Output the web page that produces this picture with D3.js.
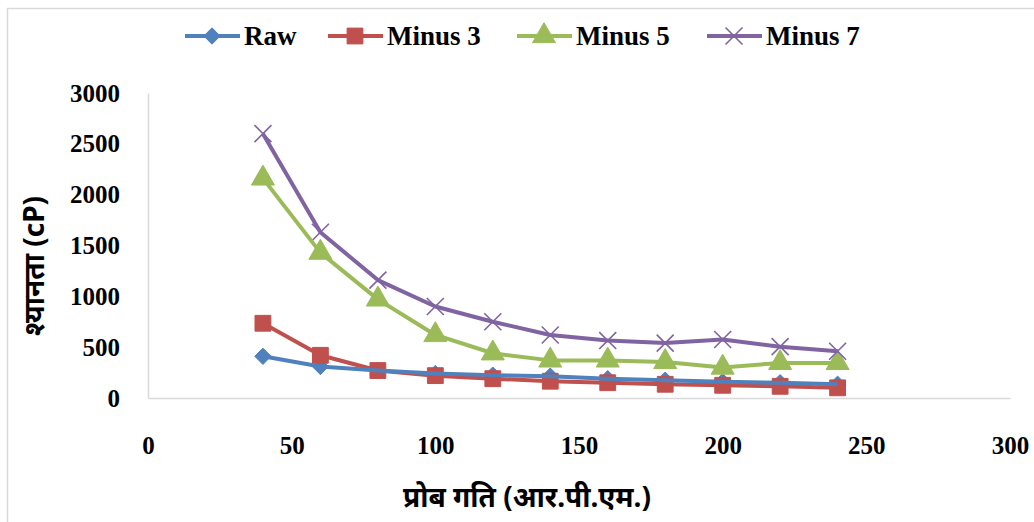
<!DOCTYPE html>
<html>
<head>
<meta charset="utf-8">
<script src="https://cdn.jsdelivr.net/npm/d3@7"></script>
<style>
  html, body { margin: 0; padding: 0; background: #fff; }
  svg { display: block; }
</style>
</head>
<body>
<svg id="chart" width="1034" height="522"></svg>
<script>
// Probe speed (rpm) and viscosity (cP) for each sample
const speeds = [40, 60, 80, 100, 120, 140, 160, 180, 200, 220, 240];
const seriesNames = ["Raw", "Minus 3", "Minus 5", "Minus 7"];
const raw    = [410, 310, 270, 240, 225, 215, 190, 175, 160, 150, 135];
const minus3 = [735, 420, 270, 220, 190, 165, 150, 135, 125, 115, 100];
const minus5 = [2160, 1430, 970, 620, 440, 370, 370, 355, 300, 345, 345];
const minus7 = [2600, 1630, 1160, 900, 750, 620, 565, 540, 575, 505, 460];
const xTicks = [0, 50, 100, 150, 200, 250, 300];
const yTicks = [0, 500, 1000, 1500, 2000, 2500, 3000];
const xTitle = "प्रोब गति (आर.पी.एम.)";
const yTitle = "श्यानता (cP)";

const colors = ["#4F81BD", "#C0504D", "#9BBB59", "#8064A2"];
const symbols = [d3.symbolDiamond2, d3.symbolSquare, d3.symbolTriangle, d3.symbolX];
const values = [raw, minus3, minus5, minus7];

const svg = d3.select("#chart");
const W = 1034, H = 522;
const plot = { left: 148, right: 1010, top: 93, bottom: 398 };
const tickFont = "'Liberation Serif', serif";

const x = d3.scaleLinear().domain([0, 300]).range([plot.left, plot.right]);
const y = d3.scaleLinear().domain([0, 3000]).range([plot.bottom, plot.top]);

// chart frame
svg.append("rect")
  .attr("x", 7.5).attr("y", 8.5)
  .attr("width", W + 20).attr("height", H + 20)
  .attr("fill", "#fff").attr("stroke", "#d9d9d9").attr("stroke-width", 1.5);

// axes
const xAxis = svg.append("g")
  .attr("transform", `translate(0,${plot.bottom})`)
  .call(d3.axisBottom(x).tickValues(xTicks).tickFormat(d3.format("d"))
    .tickSize(0).tickPadding(38));
const yAxis = svg.append("g")
  .attr("transform", `translate(${plot.left},0)`)
  .call(d3.axisLeft(y).tickValues(yTicks).tickFormat(d3.format("d"))
    .tickSize(0).tickPadding(28));
[xAxis, yAxis].forEach(g => {
  g.select(".domain").attr("stroke", "#d9d9d9").attr("stroke-width", 1.5);
  g.selectAll("text")
    .attr("font-family", tickFont)
    .attr("font-weight", "bold")
    .attr("font-size", 25)
    .attr("fill", "#000");
});

// axis titles
svg.append("text")
  .attr("x", 527).attr("y", 507)
  .attr("text-anchor", "middle")
  .attr("font-family", "'Noto Sans', sans-serif")
  .attr("font-weight", "bold").attr("font-size", 28)
  .attr("fill", "#000")
  .text(xTitle);
svg.append("text")
  .attr("transform", "translate(44,266) rotate(-90)")
  .attr("text-anchor", "middle")
  .attr("font-family", "'Noto Sans', sans-serif")
  .attr("font-weight", "bold").attr("font-size", 28)
  .attr("fill", "#000")
  .text(yTitle);

const line = d3.line()
  .x((d, i) => x(speeds[i]))
  .y(d => y(d));

function drawMarker(g, k, cx, cy) {
  const sizes = [170, 250, 230, 190];
  const p = g.append("path")
    .attr("d", d3.symbol().type(symbols[k]).size(sizes[k])())
    .attr("transform", `translate(${cx},${cy})`);
  if (k === 3) {
    p.attr("fill", "none").attr("stroke", colors[k]).attr("stroke-width", 1.6);
  } else {
    p.attr("fill", colors[k]).attr("stroke", colors[k]).attr("stroke-width", 1);
  }
}

// markers beneath, lines on top
const markers = svg.append("g");
values.forEach((vals, k) => {
  vals.forEach((v, i) => drawMarker(markers, k, x(speeds[i]), y(v)));
});
const lines = svg.append("g");
[3, 2, 1, 0].forEach(k => {
  lines.append("path")
    .datum(values[k])
    .attr("d", line)
    .attr("fill", "none")
    .attr("stroke", colors[k])
    .attr("stroke-width", 4)
    .attr("stroke-linejoin", "round");
});

// legend
const legendX = [185, 328, 517, 707];
const legend = svg.append("g");
seriesNames.forEach((name, k) => {
  const lx = legendX[k], ly = 36;
  legend.append("line")
    .attr("x1", lx).attr("x2", lx + 55)
    .attr("y1", ly).attr("y2", ly)
    .attr("stroke", colors[k]).attr("stroke-width", 4);
  drawMarker(legend, k, lx + 27, ly);
  legend.append("text")
    .attr("x", lx + 59).attr("y", ly)
    .attr("dy", "0.35em")
    .attr("font-family", tickFont)
    .attr("font-weight", "bold")
    .attr("font-size", 27)
    .attr("fill", "#000")
    .text(name);
});
</script>
</body>
</html>
